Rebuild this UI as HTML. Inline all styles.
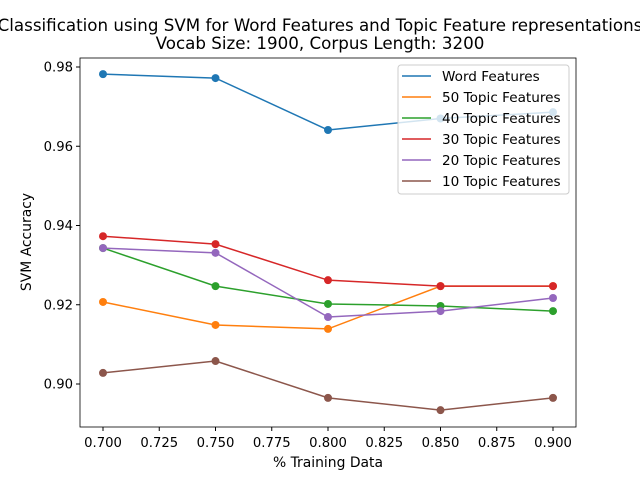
<!DOCTYPE html>
<html><head><meta charset="utf-8"><style>
body{margin:0;background:#fff;}
svg text{font-family:"DejaVu Sans","Liberation Sans",sans-serif;}
</style></head><body>
<svg id="chart" width="640" height="480" xmlns="http://www.w3.org/2000/svg"></svg>
<script>
const xValues=[0.70,0.75,0.80,0.85,0.90];
const seriesNames=["Word Features","50 Topic Features","40 Topic Features","30 Topic Features","20 Topic Features","10 Topic Features"];
const wordFeatures=[0.9782,0.9772,0.9641,0.9670,0.9686];
const topic50=[0.9207,0.9149,0.9139,0.9247,0.9247];
const topic40=[0.9343,0.9247,0.9202,0.9197,0.9184];
const topic30=[0.9373,0.9353,0.9262,0.9247,0.9247];
const topic20=[0.9343,0.9331,0.9169,0.9184,0.9217];
const topic10=[0.9028,0.9058,0.8965,0.8934,0.8965];
const xTicks=["0.700","0.725","0.750","0.775","0.800","0.825","0.850","0.875","0.900"];
const yTicks=["0.90","0.92","0.94","0.96","0.98"];
const colors=["#1f77b4","#ff7f0e","#2ca02c","#d62728","#9467bd","#8c564b"];
const allSeries=[wordFeatures,topic50,topic40,topic30,topic20,topic10];
const L=80,R=576,T=58,B=427;
const sx=v=>103+(v-0.7)/0.2*450;
const sy=v=>384-(v-0.9)/0.08*317;
const svg=document.getElementById('chart');
const NS="http://www.w3.org/2000/svg";
function mk(tag,attrs,parent){const e=document.createElementNS(NS,tag);for(const k in attrs)e.setAttribute(k,attrs[k]);(parent||svg).appendChild(e);return e;}
let t=mk('text',{x:320,y:31,'text-anchor':'middle','font-size':16.7});t.textContent="Classification using SVM for Word Features and Topic Feature representations";


t=mk('text',{x:320,y:49,'text-anchor':'middle','font-size':16.7});t.textContent="Vocab Size: 1900, Corpus Length: 3200";


xTicks.forEach(s=>{const v=parseFloat(s),x=sx(v);mk('line',{x1:x,x2:x,y1:B,y2:B+4,stroke:'#000'});const e=mk('text',{x:x,y:B+20,'text-anchor':'middle','font-size':13.2});e.textContent=s;

});
yTicks.forEach(s=>{const v=parseFloat(s),y=sy(v);mk('line',{x1:L-4,x2:L,y1:y,y2:y,stroke:'#000'});const e=mk('text',{x:L-7,y:y+4.5,'text-anchor':'end','font-size':13.2});e.textContent=s;

});
t=mk('text',{x:328,y:467,'text-anchor':'middle','font-size':13.9});t.textContent="% Training Data";


t=mk('text',{x:31,y:242,'text-anchor':'middle','font-size':13.9,transform:'rotate(-90 31 242)'});t.textContent="SVM Accuracy";


allSeries.forEach((d,i)=>{const g=mk('g',{});


mk('polyline',{points:d.map((v,j)=>sx(xValues[j])+','+sy(v)).join(' '),fill:'none',stroke:colors[i],'stroke-width':1.5},g);
d.forEach((v,j)=>{const c=mk('circle',{cx:sx(xValues[j]),cy:sy(v),r:4,fill:colors[i]},g);

});});
const f=mk('rect',{x:L,y:T,width:R-L,height:B-T,fill:'none',stroke:'#000','stroke-width':0.8});


const lg=mk('g',{});


mk('rect',{x:398,y:65,width:171,height:129,rx:3,fill:'#fff','fill-opacity':0.8,stroke:'#ccc'},lg);
seriesNames.forEach((n,i)=>{const y=76+i*21;mk('line',{x1:402,x2:431,y1:y,y2:y,stroke:colors[i],'stroke-width':1.5},lg);const e=mk('text',{x:442,y:y+5,'font-size':13.6},lg);e.textContent=n;

});
</script>
</body></html>
